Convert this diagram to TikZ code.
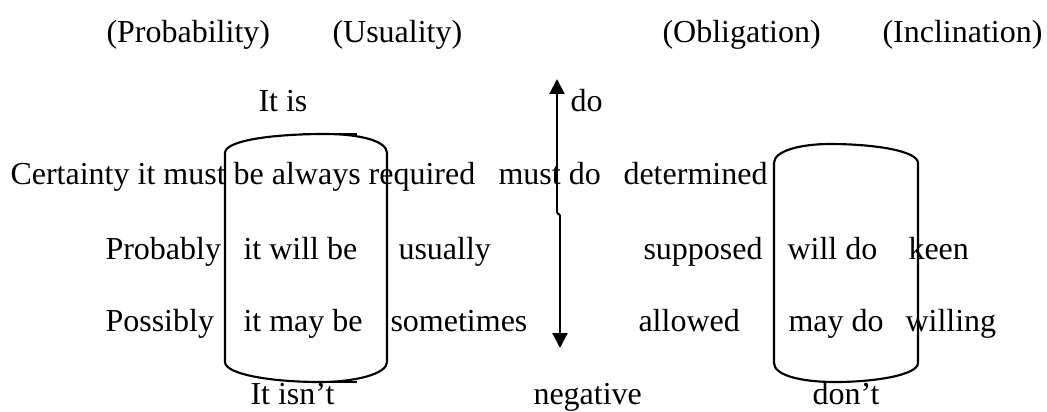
\documentclass[tikz,border=0pt]{standalone}
\usepackage{fontspec}
\setmainfont{Liberation Serif}
\usetikzlibrary{arrows.meta}
\tikzset{
  lbl/.style={anchor=base west, inner sep=0pt, font=\fontsize{12pt}{14pt}\selectfont},
  can/.style={line width=0.8pt},
  modarrow/.style={line width=0.8pt, -{Triangle[length=5.6pt,width=5.6pt]}}
}
\begin{document}
\begin{tikzpicture}[x=0.375pt, y=-0.375pt]
  \useasboundingbox (0,0) rectangle (1047,411);
  % headings
  \node[lbl] (prob) at (106,42) {(Probability)};
  \node[lbl] (usu)  at (332,42) {(Usuality)};
  \node[lbl] (obl)  at (662,42) {(Obligation)};
  \node[lbl] (incl) at (882,42) {(Inclination)};
  % positive / negative ends
  \node[lbl] (itis)  at (258,111) {It is};
  \node[lbl] (dotop) at (570,111) {do};
  \node[lbl] (isnt)  at (250,404) {It isn’t};
  \node[lbl] (neg)   at (533,404) {negative};
  \node[lbl] (dont)  at (812,404) {don’t};
  % rows
  \node[lbl] (cert)   at (10,184)  {Certainty it must be always required};
  \node[lbl] (mustdo) at (498,184) {must do};
  \node[lbl] (determ) at (623,184) {determined};
  \node[lbl] (probly) at (105,259) {Probably};
  \node[lbl] (willbe) at (243,259) {it will be};
  \node[lbl] (usual)  at (398,259) {usually};
  \node[lbl] (suppos) at (643,259) {supposed};
  \node[lbl] (willdo) at (787,259) {will do};
  \node[lbl] (keen)   at (908,259) {keen};
  \node[lbl] (possly) at (105,331) {Possibly};
  \node[lbl] (maybe)  at (243,331) {it may be};
  \node[lbl] (somet)  at (390,331) {sometimes};
  \node[lbl] (allow)  at (638,331) {allowed};
  \node[lbl] (maydo)  at (788,331) {may do};
  \node[lbl] (willg)  at (905,331) {willing};
  % left can
  \draw[can] (225,362) -- (225,153)
    .. controls (225,140) and (275,134) .. (325,134)
    .. controls (360,134) and (387,141) .. (387,153) -- (387,362)
    .. controls (387,374) and (355,382) .. (320,382)
    .. controls (270,382) and (225,374) .. (225,362);
  \draw[can] (303,134) -- (357,134);
  \draw[can] (303,382) -- (357,382);
  % right can
  \draw[can] (774,363) -- (774,163)
    .. controls (774,151) and (800,144) .. (830,144)
    .. controls (875,144) and (918,151) .. (918,163) -- (918,363)
    .. controls (918,375) and (875,382) .. (835,382)
    .. controls (800,382) and (774,375) .. (774,363);
  % scale arrows
  \coordinate (uptip) at (557,79);
  \coordinate (midA) at (557,213);
  \coordinate (midB) at (560,215);
  \coordinate (downtip) at (560,348);
  \draw[modarrow] (midA) -- (uptip);
  \draw[line width=0.8pt] (midA) -- (midB);
  \draw[modarrow] (midB) -- (downtip);
\end{tikzpicture}
\end{document}
